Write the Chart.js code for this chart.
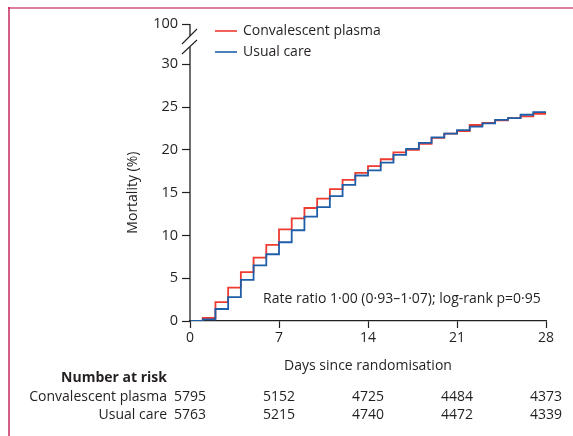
<!DOCTYPE html>
<html>
<head>
<meta charset="utf-8">
<script src="https://cdn.jsdelivr.net/npm/chart.js@4"></script>
<style>
  html, body { margin: 0; padding: 0; background: #fff; }
  #wrap { position: relative; width: 573px; height: 436px; }
</style>
</head>
<body>
<div id="wrap"><canvas id="myChart" width="573" height="436"></canvas></div>
<script>
// Datos (mortalidad acumulada, %), un valor por día 0..27
const days = [0, 1, 2, 3, 4, 5, 6, 7, 8, 9, 10, 11, 12, 13, 14, 15, 16, 17, 18, 19, 20, 21, 22, 23, 24, 25, 26, 27, 28]
const plasma = [0, 0.35, 2.2, 3.9, 5.7, 7.4, 8.9, 10.7, 12.0, 13.2, 14.3, 15.4, 16.5, 17.3, 18.1, 18.9, 19.7, 20.0, 20.7, 21.4, 21.9, 22.2, 22.9, 23.15, 23.45, 23.7, 23.9, 24.2, 24.2]
const usualCare = [0, 0.2, 1.4, 2.8, 4.8, 6.5, 7.8, 9.2, 10.6, 12.2, 13.3, 14.6, 15.9, 17.0, 17.6, 18.5, 19.4, 20.1, 20.8, 21.45, 21.9, 22.3, 22.7, 23.1, 23.5, 23.7, 24.1, 24.4, 24.4]

const xTicks = [0, 7, 14, 21, 28]
const yTicks = [0, 5, 10, 15, 20, 25, 30]
const yTop = 34.7          // posición del "100" tras el corte del eje
const riskPlasma = [5795, 5152, 4725, 4484, 4373]
const riskUsual = [5763, 5215, 4740, 4472, 4339]

const FONT = '"Open Sans", "Noto Sans", sans-serif'
const TXT = '#231f20'
const RED = '#ee3a2f'
const BLUE = '#1f5ea8'

const toPoints = vals => days.map((d, i) => ({ x: d, y: vals[i] }))

/*
  Plugin: eje con corte, leyenda, anotación y tabla "Number at risk"
*/
const extras = {
    id: 'extras',
    beforeDraw(chart) {
        const c = chart.ctx
        c.save()
        c.fillStyle = '#fff'
        c.fillRect(0, 0, chart.width, chart.height)
        // marco rosa
        c.strokeStyle = '#de7d97'
        c.lineWidth = 2
        c.beginPath(); c.moveTo(8, 8); c.lineTo(chart.width, 8); c.stroke()
        c.strokeStyle = '#c42a5c'
        c.lineWidth = 1.5
        c.beginPath(); c.moveTo(9, 7); c.lineTo(9, chart.height); c.stroke()
        c.restore()
    },
    afterDraw(chart) {
        const c = chart.ctx
        const xs = chart.scales.x
        const ys = chart.scales.y
        const x0 = xs.getPixelForValue(0)
        c.save()
        c.strokeStyle = TXT
        c.lineWidth = 1.3
        // eje y con corte
        const yTopPx = ys.getPixelForValue(yTop)
        c.beginPath()
        c.moveTo(x0, ys.getPixelForValue(0)); c.lineTo(x0, yTopPx + 23)
        c.moveTo(x0, yTopPx + 12); c.lineTo(x0, yTopPx)
        c.stroke()
        c.lineWidth = 1.1
        c.beginPath()
        c.moveTo(x0 - 8, yTopPx + 20); c.lineTo(x0 + 7, yTopPx + 5)
        c.moveTo(x0 - 8, yTopPx + 30); c.lineTo(x0 + 7, yTopPx + 16)
        c.stroke()

        // leyenda
        c.lineWidth = 1.6
        c.strokeStyle = RED
        c.beginPath(); c.moveTo(215, 31); c.lineTo(237, 31); c.stroke()
        c.strokeStyle = BLUE
        c.beginPath(); c.moveTo(215, 52); c.lineTo(237, 52); c.stroke()
        c.fillStyle = TXT
        c.font = '14px ' + FONT
        c.textBaseline = 'middle'
        c.textAlign = 'left'
        c.fillText('Convalescent plasma', 243, 31)
        c.fillText('Usual care', 243, 52)

        // anotación
        c.fillText('Rate ratio 1·00 (0·93–1·07); log-rank p=0·95', 263, 299)

        // títulos de ejes
        c.textAlign = 'center'
        c.fillText('Days since randomisation', xs.getPixelForValue(14), 366)
        c.save()
        c.translate(133, ys.getPixelForValue(15))
        c.rotate(-Math.PI / 2)
        c.fillText('Mortality (%)', 0, 0)
        c.restore()

        // tabla de número en riesgo
        c.textAlign = 'right'
        c.font = 'bold 14px ' + FONT
        c.fillText('Number at risk', 167, 378)
        c.font = '14px ' + FONT
        c.fillText('Convalescent plasma', 167, 397)
        c.fillText('Usual care', 167, 415)
        c.textAlign = 'center'
        xTicks.forEach((d, i) => {
            c.fillText(String(riskPlasma[i]), xs.getPixelForValue(d), 397)
            c.fillText(String(riskUsual[i]), xs.getPixelForValue(d), 415)
        })
        c.restore()
    }
}

const ctx = document.getElementById('myChart').getContext('2d')
const myChart = new Chart(ctx, {
    type: 'line',
    data: {
        datasets: [
            {
                label: 'Usual care',
                data: toPoints(usualCare),
                borderColor: BLUE,
                borderWidth: 1.8,
                stepped: true,
                pointRadius: 0,
                fill: false,
                order: 0
            },
            {
                label: 'Convalescent plasma',
                data: toPoints(plasma),
                borderColor: RED,
                borderWidth: 1.8,
                stepped: true,
                pointRadius: 0,
                fill: false,
                order: 1
            }
        ]
    },
    options: {
        responsive: false,
        animation: false,
        layout: { padding: { top: 24, right: 27, left: 0, bottom: 0 } },
        scales: {
            x: {
                type: 'linear',
                min: 0,
                max: 28,
                afterBuildTicks: s => { s.ticks = xTicks.map(v => ({ value: v })) },
                afterFit: s => { s.height = 115 },
                grid: { drawOnChartArea: false, drawTicks: true, tickLength: 7, color: TXT, tickWidth: 1.2 },
                border: { display: true, color: TXT, width: 1.3 },
                ticks: { color: TXT, font: { family: FONT, size: 14 }, padding: 2, maxRotation: 0 }
            },
            y: {
                type: 'linear',
                min: 0,
                max: yTop,
                afterBuildTicks: s => { s.ticks = yTicks.concat([yTop]).map(v => ({ value: v })) },
                afterFit: s => { s.width = 190 },
                grid: { drawOnChartArea: false, drawTicks: true, tickLength: 8, color: TXT, tickWidth: 1.2 },
                border: { display: false },
                ticks: {
                    color: TXT,
                    font: { family: FONT, size: 14.5 },
                    padding: 4,
                    callback: v => v === yTop ? '100' : String(v)
                }
            }
        },
        plugins: {
            legend: { display: false },
            tooltip: { enabled: false }
        }
    },
    plugins: [extras]
})
</script>
</body>
</html>
